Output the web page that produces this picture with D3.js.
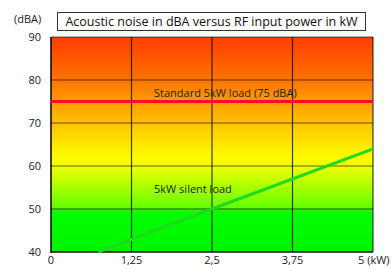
<!DOCTYPE html>
<html>
<head>
<meta charset="utf-8">
<script src="https://cdn.jsdelivr.net/npm/d3@7"></script>
<style>
  body { margin: 0; background: #fff; }
  svg { font-family: "Open Sans", "Noto Sans", sans-serif; }
</style>
</head>
<body>
<div id="chart"></div>
<script>
// Data
var xTicks = [0, 1.25, 2.5, 3.75, 5];
var xTickLabels = ["0", "1,25", "2,5", "3,75", "5 (kW)"];
var yTicks = [40, 50, 60, 70, 80, 90];
var standardLoad = [[0, 75], [5, 75]];
var silentLoad = [[0.73, 40], [2.5, 50], [5, 64]];
var bandStops = [
    {v: 90, c: "#ff3c00"}, {v: 80, c: "#ff7400"}, {v: 70, c: "#ffc200"},
    {v: 63, c: "#fff600"}, {v: 60, c: "#f2ff00"}, {v: 50.5, c: "#66ff00"},
    {v: 49.6, c: "#22f500"}, {v: 49, c: "#00ff00"}, {v: 40, c: "#00f500"}
];

var width = 392, height = 269;
var margin = {left: 51, right: 19, top: 37, bottom: 17};

var svg = d3.select("#chart").append("svg")
    .attr("width", width)
    .attr("height", height);

var x = d3.scaleLinear().domain([0, 5]).range([margin.left, width - margin.right]);
var y = d3.scaleLinear().domain([40, 90]).range([height - margin.bottom, margin.top]);

// Background gradient
var grad = svg.append("defs").append("linearGradient")
    .attr("id", "bg")
    .attr("gradientUnits", "userSpaceOnUse")
    .attr("x1", 0).attr("x2", 0)
    .attr("y1", y(90)).attr("y2", y(40));
grad.selectAll("stop")
    .data(bandStops)
    .enter().append("stop")
    .attr("offset", function(d) { return (y(d.v) - y(90)) / (y(40) - y(90)); })
    .attr("stop-color", function(d) { return d.c; });

svg.append("rect")
    .attr("x", x(0)).attr("y", y(90))
    .attr("width", x(5) - x(0)).attr("height", y(40) - y(90))
    .attr("fill", "url(#bg)");

// Grid
svg.selectAll(".hgrid")
    .data(yTicks.slice(1))
    .enter().append("line")
    .attr("x1", x(0)).attr("x2", x(5))
    .attr("y1", function(d) { return y(d); })
    .attr("y2", function(d) { return y(d); })
    .style("stroke", "#000").style("stroke-opacity", 0.6).style("stroke-width", 1.2);

svg.selectAll(".vgrid")
    .data(xTicks.slice(1))
    .enter().append("line")
    .attr("x1", function(d) { return x(d); })
    .attr("x2", function(d) { return x(d); })
    .attr("y1", y(90)).attr("y2", y(40))
    .style("stroke", "#000").style("stroke-opacity", 0.75).style("stroke-width", 1.2);

// Axes lines
svg.append("line")
    .attr("x1", x(0)).attr("x2", x(0)).attr("y1", y(90)).attr("y2", y(40) + 1)
    .style("stroke", "#000").style("stroke-width", 1.5);
svg.append("line")
    .attr("x1", x(0)).attr("x2", x(5)).attr("y1", y(40)).attr("y2", y(40))
    .style("stroke", "#111").style("stroke-width", 1.5);

// Lines
var line = d3.line()
    .x(function(d) { return x(d[0]); })
    .y(function(d) { return y(d[1]); });

svg.append("path")
    .datum(standardLoad)
    .attr("d", line)
    .attr("fill", "none")
    .style("stroke", "#ff0a28").style("stroke-width", 3);

svg.append("path")
    .datum(silentLoad)
    .attr("d", line)
    .attr("fill", "none")
    .style("stroke", "#1ddb1d").style("stroke-width", 3);

// Line labels
svg.append("text")
    .attr("x", x(1.6)).attr("y", y(75) - 5)
    .style("font-size", "11px").style("fill", "#222")
    .text("Standard 5kW load (75 dBA)");
svg.append("text")
    .attr("x", x(1.6)).attr("y", y(53.7))
    .style("font-size", "11px").style("fill", "#222")
    .text("5kW silent load");

// Tick labels
svg.selectAll(".ylab")
    .data(yTicks)
    .enter().append("text")
    .attr("x", 41)
    .attr("y", function(d) { return y(d) + 4; })
    .attr("text-anchor", "end")
    .style("font-size", "11px").style("fill", "#222")
    .text(function(d) { return d; });

svg.selectAll(".xlab")
    .data(xTicks)
    .enter().append("text")
    .attr("x", function(d, i) { return i === xTicks.length - 1 ? x(d) - 15 : x(d); })
    .attr("y", 264)
    .attr("text-anchor", function(d, i) { return i === xTicks.length - 1 ? "start" : "middle"; })
    .style("font-size", "11px").style("fill", "#222")
    .text(function(d, i) { return xTickLabels[i]; });

svg.append("text")
    .attr("x", 14).attr("y", 23)
    .style("font-size", "11px").style("fill", "#222")
    .text("(dBA)");

// Title box
svg.append("rect")
    .attr("x", 57.5).attr("y", 12.5)
    .attr("width", 308).attr("height", 18)
    .attr("fill", "#fff")
    .style("stroke", "#333").style("stroke-width", 1);
svg.append("text")
    .attr("x", 211.5).attr("y", 26)
    .attr("text-anchor", "middle")
    .style("font-size", "12.5px").style("fill", "#111")
    .text("Acoustic noise in dBA versus RF input power in kW");
</script>
</body>
</html>
